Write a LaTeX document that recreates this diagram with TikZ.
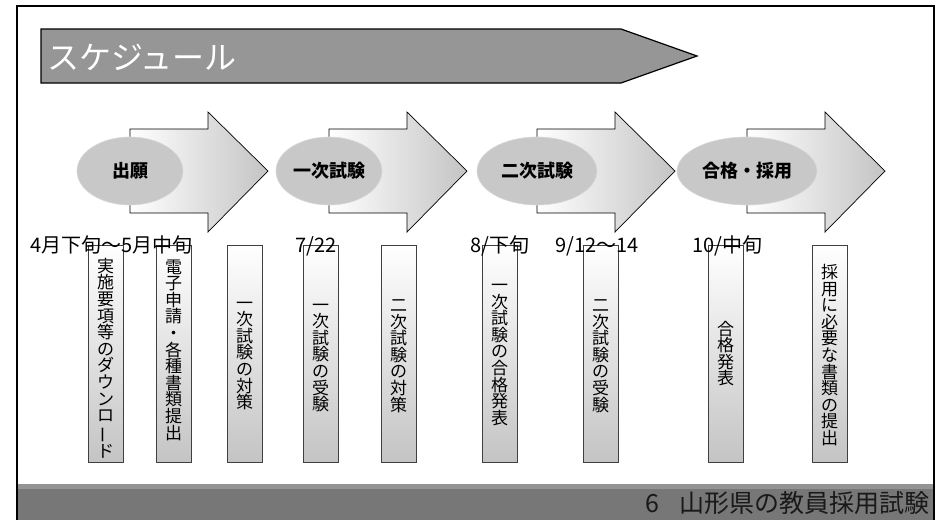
\documentclass[tikz,border=0pt]{standalone}
\usepackage{fontspec}
\setmainfont{Noto Sans CJK JP}
\usetikzlibrary{shapes.geometric}

\definecolor{bannergray}{RGB}{150,150,150}
\definecolor{footlight}{RGB}{148,148,148}
\definecolor{footdark}{RGB}{119,119,119}
\definecolor{ovalgray}{RGB}{200,200,200}
\definecolor{shadegray}{RGB}{196,196,196}

\newcommand{\tatebar}{\rotatebox[origin=c]{90}{ー}}

\tikzset{
  bigarrow/.style={draw=black, line width=0.7pt, left color=white, right color=shadegray},
  oval/.style={ellipse, fill=ovalgray, draw=ovalgray!70!white, line width=0.6pt,
               minimum height=68pt, inner sep=0pt, font=\fontsize{18}{18}\selectfont\bfseries},
  stepbox/.style={draw=black!75, line width=0.6pt, top color=white, bottom color=shadegray,
                  minimum width=35pt, minimum height=217pt, inner sep=0pt},
  tate/.style={align=center, inner sep=0pt, font=\fontsize{17}{16.6}\selectfont},
  datelabel/.style={anchor=base west, inner sep=0pt, font=\fontsize{20}{20}\selectfont}
}

\begin{document}
\begin{tikzpicture}[x=1pt,y=-1pt]
\useasboundingbox (0,0) rectangle (943,520);

% footer band
\fill[footlight] (17,484) rectangle (934,489);
\fill[footdark] (17,489) rectangle (934,520);
\node[anchor=base east, inner sep=0pt, font=\fontsize{25}{25}\selectfont, text=black!90]
  (footer) at (930,512) {6\hspace{0.8em}山形県の教員採用試験};

% frame
\draw[line width=2.2pt] (17,520) -- (17,6) -- (934,6) -- (934,520);

% title banner
\draw[fill=bannergray, line width=1.2pt]
  (41,29) -- (621,29) -- (697,56) -- (621,83) -- (41,83) -- cycle;
\node[anchor=west, inner sep=0pt, text=white, font=\fontsize{32}{32}\selectfont]
  (title) at (47,57) {スケジュール};

% stage arrows with ovals
\foreach \x/\w/\n/\t in {130/106/s1/出願, 329/106/s2/一次試験,
                         537/120/s3/二次試験, 747/140/s4/合格・採用}
{
  \draw[bigarrow] (\x,129) -- (\x+78,129) -- (\x+78,112) -- (\x+138,171)
    -- (\x+78,232) -- (\x+78,213) -- (\x,213) -- cycle;
  \node[oval, minimum width=\w pt] (\n) at (\x,171) {\t};
}

% task boxes
\foreach \x/\y/\n/\t in {
   88/358/t1/{実\\施\\要\\項\\等\\の\\ダ\\ウ\\ン\\ロ\\\tatebar\\ド},
  156/350/t2/{電\\子\\申\\請\\・\\各\\種\\書\\類\\提\\出},
  227/356/t3/{一\\次\\試\\験\\の\\対\\策},
  303/358/t4/{一\\次\\試\\験\\の\\受\\験},
  381/356/t5/{二\\次\\試\\験\\の\\対\\策},
  482/355/t6/{一\\次\\試\\験\\の\\合\\格\\発\\表},
  583/356/t7/{二\\次\\試\\験\\の\\受\\験},
  708/353.5/t8/{合\\格\\発\\表},
  812/355/t9/{採\\用\\に\\必\\要\\な\\書\\類\\の\\提\\出}}
{
  \node[stepbox] (\n) at (\x+17.5,353.5) {};
  \node[tate] (\n-text) at (\x+17.5,\y) {\t};
}

% dates
\node[datelabel] (d1) at (30,252) {4月下旬～5月中旬};
\node[datelabel] (d2) at (295,252) {7/22};
\node[datelabel] (d3) at (470,252) {8/下旬};
\node[datelabel] (d4) at (555,252) {9/12～14};
\node[datelabel] (d5) at (692,252) {10/中旬};
\end{tikzpicture}
\end{document}
